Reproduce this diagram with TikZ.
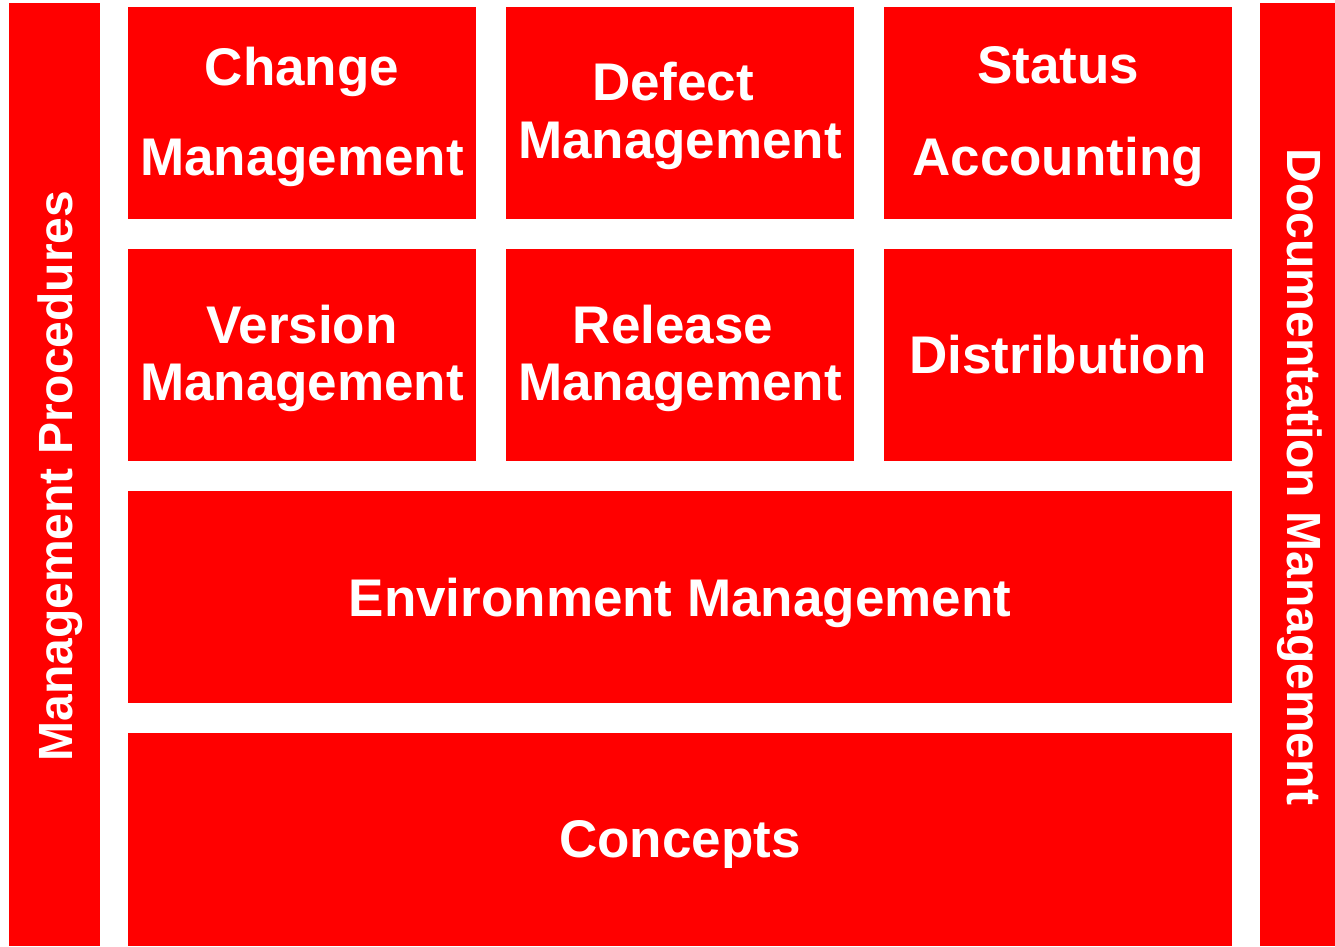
\documentclass[tikz,border=0pt]{standalone}
\usepackage{fontspec}
\setmainfont{Liberation Sans}
\definecolor{boxred}{HTML}{FF0000}
\begin{document}
\begin{tikzpicture}[x=1pt,y=-1pt,
  block/.style={fill=boxred,draw=none,inner sep=0pt,outer sep=0pt,minimum width=348pt,minimum height=212pt},
  wide/.style={block,minimum width=1104pt},
  lbl/.style={text=white,font=\fontsize{53}{60}\selectfont\bfseries,inner sep=0pt,anchor=base},
  side/.style={text=white,font=\fontsize{48}{56}\selectfont\bfseries,inner sep=0pt,anchor=base}]
\useasboundingbox (0,0) rectangle (1335,946);
% side bars
\node[block,minimum width=91pt,minimum height=943pt] (mp) at (54.5,474.5) {};
\node[block,minimum width=75pt,minimum height=943pt] (dm) at (1297.5,474.5) {};
% row 1
\node[block] (chg) at (302,113) {};
\node[block] (def) at (680,113) {};
\node[block] (sta) at (1058,113) {};
% row 2
\node[block] (ver) at (302,355) {};
\node[block] (rel) at (680,355) {};
\node[block] (dis) at (1058,355) {};
% wide rows
\node[wide] (env) at (680,597) {};
\node[wide,minimum height=213pt] (con) at (680,839) {};
% labels
\node[lbl] (chg1) at (302,85) {Change};
\node[lbl] (chg2) at (302,175) {Management};
\node[lbl] (def1) at (673,100) {Defect};
\node[lbl] (def2) at (680,158) {Management};
\node[lbl] (sta1) at (1058,83) {Status};
\node[lbl] (sta2) at (1058,175) {Accounting};
\node[lbl] (ver1) at (302,343) {Version};
\node[lbl] (ver2) at (302,400) {Management};
\node[lbl] (rel1) at (673,343) {Release};
\node[lbl] (rel2) at (680,400) {Management};
\node[lbl] (dis1) at (1058,373) {Distribution};
\node[lbl] (env1) at (680,616) {Environment Management};
\node[lbl] (con1) at (680,857) {Concepts};
\node[side,rotate=90] (mp1) at (72,476) {Management Procedures};
\node[side,rotate=-90] (dm1) at (1287,477) {Documentation Management};
\end{tikzpicture}
\end{document}
